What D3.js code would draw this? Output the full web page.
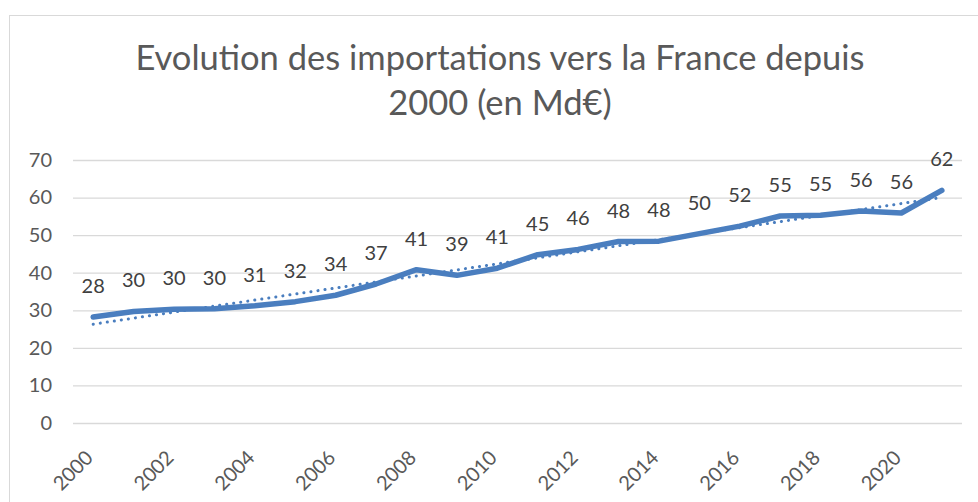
<!DOCTYPE html>
<html>
<head>
<meta charset="utf-8">
<script src="https://cdn.jsdelivr.net/npm/d3@7"></script>
<style>
  body { margin: 0; background: #fff; }
  text { font-family: Lato, "Open Sans", sans-serif; }
</style>
</head>
<body>
<script>
// chart data
const years = [2000, 2001, 2002, 2003, 2004, 2005, 2006, 2007, 2008, 2009, 2010,
               2011, 2012, 2013, 2014, 2015, 2016, 2017, 2018, 2019, 2020, 2021];
const imports = [28.2, 29.7, 30.3, 30.4, 31.2, 32.3, 34.0, 37.0, 40.8, 39.3, 41.2,
                 44.8, 46.2, 48.3, 48.4, 50.4, 52.4, 55.1, 55.3, 56.4, 55.9, 61.9];
const yTicks = [0, 10, 20, 30, 40, 50, 60, 70];
const titleLines = ["Evolution des importations vers la France depuis", "2000 (en Md€)"];

const width = 978, height = 502;
const margin = {left: 73, right: 16, top: 160, bottom: 79};
const blue = "#4a7ebf";

const svg = d3.select("body").append("svg")
  .attr("width", width)
  .attr("height", height);

// chart area border (only left and top edges show)
svg.append("rect")
  .attr("x", 9.5).attr("y", 15.5)
  .attr("width", width + 20).attr("height", height)
  .attr("fill", "#fff")
  .attr("stroke", "#d9d9d9");

const x = d3.scaleBand()
  .domain(years)
  .range([margin.left, width - margin.right]);

const y = d3.scaleLinear()
  .domain([0, 70])
  .range([height - margin.bottom, margin.top]);

const cx = d => x(d) + x.bandwidth() / 2;

// title
svg.append("text")
  .attr("x", 500)
  .attr("y", 70)
  .attr("text-anchor", "middle")
  .attr("fill", "#595959")
  .style("font-size", "34.5px")
  .selectAll("tspan")
  .data(titleLines)
  .enter().append("tspan")
  .attr("x", 500)
  .attr("dy", (d, i) => i ? 45 : 0)
  .text(d => d);

// gridlines + y labels
const yAxis = d3.axisLeft(y)
  .tickValues(yTicks)
  .tickSize(-(width - margin.left - margin.right))
  .tickPadding(21);

svg.append("g")
  .attr("transform", "translate(" + margin.left + ",0)")
  .call(yAxis)
  .call(g => g.select(".domain").remove())
  .call(g => g.selectAll(".tick line").attr("stroke", "#d9d9d9").attr("stroke-width", 1.3))
  .call(g => g.selectAll(".tick text").attr("fill", "#595959").style("font-size", "20px"));

// x labels every 2 years
const xAxis = d3.axisBottom(x)
  .tickValues(years.filter(d => d % 2 == 0))
  .tickSize(0);

svg.append("g")
  .attr("transform", "translate(0," + (height - margin.bottom) + ")")
  .call(xAxis)
  .call(g => g.select(".domain").remove())
  .selectAll("text")
  .attr("fill", "#595959")
  .style("font-size", "20px")
  .style("text-anchor", "end")
  .attr("x", 0)
  .attr("y", 0)
  .attr("dy", 0)
  .attr("transform", "translate(1,36) rotate(-45)");

// linear trendline (least squares over the series)
const idx = years.map((d, i) => i + 1);
const n = idx.length;
const mx = d3.mean(idx), my = d3.mean(imports);
const slope = d3.sum(idx, (d, i) => (d - mx) * (imports[i] - my)) / d3.sum(idx, d => (d - mx) * (d - mx));
const icpt = my - slope * mx;

svg.append("line")
  .attr("x1", cx(years[0]))
  .attr("y1", y(icpt + slope * 1))
  .attr("x2", cx(years[n - 1]))
  .attr("y2", y(icpt + slope * n))
  .attr("stroke", blue)
  .attr("stroke-width", 3)
  .attr("stroke-linecap", "round")
  .attr("stroke-dasharray", "0.1 7");

// main line
const line = d3.line()
  .x((d, i) => cx(years[i]))
  .y(d => y(d));

svg.append("path")
  .datum(imports)
  .attr("d", line)
  .attr("fill", "none")
  .attr("stroke", blue)
  .attr("stroke-width", 5.5)
  .attr("stroke-linejoin", "round")
  .attr("stroke-linecap", "round");

// value labels
svg.selectAll(".lbl")
  .data(imports)
  .enter().append("text")
  .attr("class", "lbl")
  .attr("x", (d, i) => cx(years[i]))
  .attr("y", d => y(d) - 24)
  .attr("text-anchor", "middle")
  .attr("fill", "#404040")
  .style("font-size", "20px")
  .text(d => d3.format(".0f")(d));
</script>
</body>
</html>
